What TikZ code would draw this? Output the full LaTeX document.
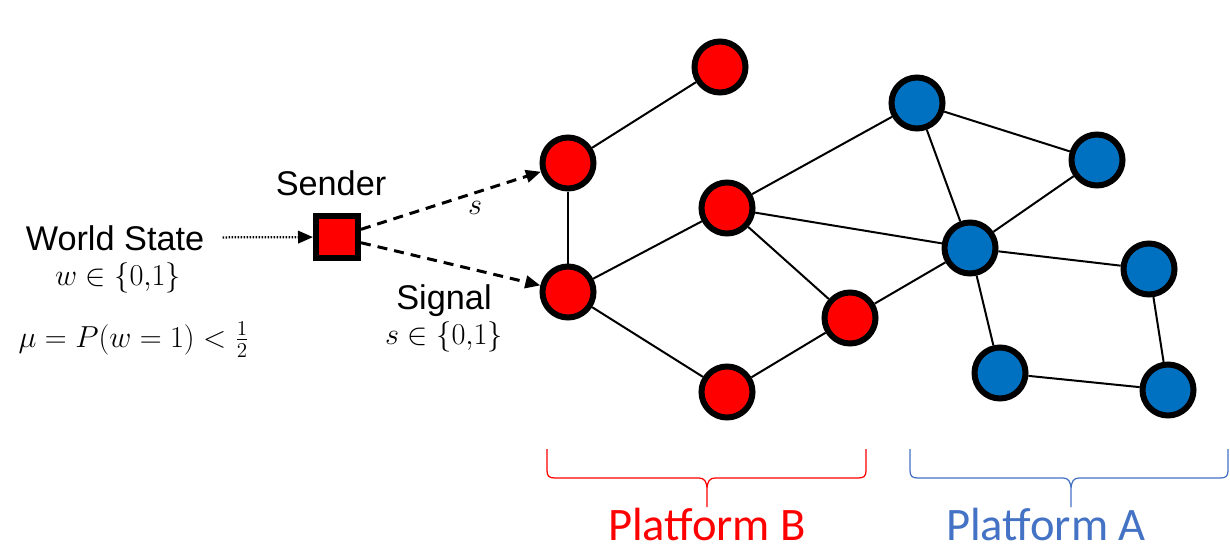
\documentclass[tikz,border=0pt]{standalone}
\usepackage{fontspec}
\setmainfont{Liberation Sans}
\newfontfamily\platfont{Carlito}
\usepackage{amsmath}
\usetikzlibrary{arrows.meta}
\definecolor{nodeblue}{HTML}{0070C0}
\definecolor{braceblue}{HTML}{4472C4}

\begin{document}
\begin{tikzpicture}[
    agent/.style={circle, draw=black, line width=0.12cm, minimum size=1.02cm, inner sep=0pt},
    redagent/.style={agent, fill=red},
    blueagent/.style={agent, fill=nodeblue},
    link/.style={line width=0.04cm},
    signal/.style={line width=0.06cm, dash pattern=on 0.2cm off 0.14cm,
      -{Triangle[length=0.3cm, width=0.25cm]}},
    txt/.style={font=\fontsize{19.5}{23}\selectfont, inner sep=0pt},
    mtxt/.style={font=\fontsize{18}{21}\selectfont, inner sep=0pt},
    platlbl/.style={font=\platfont\fontsize{26.5}{31}\selectfont, anchor=base, inner sep=0pt, text depth=0pt}
  ]
  \useasboundingbox (0,0) rectangle (24.6,10.96);

  % World state and sender
  \node[txt, anchor=base] (world) at (2.30,5.96) {World State};
  \node[mtxt, anchor=base] (wval) at (2.36,5.26) {$w \in \{0{,}1\}$};
  \node[mtxt, anchor=base] (prior) at (2.68,4.02) {$\mu = P(w=1) < \frac{1}{2}$};
  \node[draw=black, fill=red, line width=0.12cm, minimum size=0.84cm, inner sep=0pt] (sender) at (6.74,6.22) {};
  \node[txt, anchor=base] (sendlbl) at (6.62,7.06) {Sender};
  \draw[line width=0.045cm, dash pattern=on 0.03cm off 0.03cm,
    -{Triangle[length=0.3cm, width=0.25cm]}, shorten <=0.36cm] (world) -- (sender);

  % Platform B (red)
  \node[redagent] (b1) at (14.40,9.62) {};
  \node[redagent] (b2) at (11.36,7.70) {};
  \node[redagent] (b3) at (14.54,6.80) {};
  \node[redagent] (b4) at (11.36,5.12) {};
  \node[redagent] (b5) at (17.00,4.60) {};
  \node[redagent] (b6) at (14.54,3.12) {};

  % Platform A (blue)
  \node[blueagent] (a1) at (18.34,8.90) {};
  \node[blueagent] (a2) at (21.94,7.76) {};
  \node[blueagent] (a3) at (19.40,6.00) {};
  \node[blueagent] (a4) at (22.98,5.58) {};
  \node[blueagent] (a5) at (20.00,3.50) {};
  \node[blueagent] (a6) at (23.36,3.16) {};

  % Network links
  \foreach \u/\v in {b1/b2, b2/b4, b4/b3, b4/b6, b3/b5, b6/b5, b3/a1, b3/a3, b5/a3,
                     a1/a2, a1/a3, a3/a2, a3/a4, a3/a5, a5/a6, a4/a6}
    \draw[link] (\u) -- (\v);

  % Signals sent to the platform
  \draw[signal] (sender) -- (b2);
  \draw[signal] (sender) -- (b4);
  \node[mtxt, anchor=base] (slbl) at (9.50,6.68) {$s$};
  \node[txt, anchor=base] (siglbl) at (8.88,4.78) {Signal};
  \node[mtxt, anchor=base] (sval) at (8.88,4.08) {$s \in \{0{,}1\}$};

  % Braces under each platform
  \foreach \l/\m/\r/\c in {10.94/14.14/17.32/red, 18.20/21.42/24.56/braceblue}
    \draw[\c, line width=0.025cm]
      (\l,1.98) -- (\l,1.55) .. controls (\l,1.44) and (\l+0.04,1.40) .. (\l+0.16,1.40)
      -- (\m-0.16,1.40) .. controls (\m-0.06,1.40) and (\m,1.34) .. (\m,1.16) -- (\m,0.82)
      (\m,1.16) .. controls (\m,1.34) and (\m+0.06,1.40) .. (\m+0.16,1.40)
      -- (\r-0.16,1.40) .. controls (\r-0.04,1.40) and (\r,1.44) .. (\r,1.55) -- (\r,1.98);
  \node[platlbl, red] (platb) at (14.14,0.16) {Platform B};
  \node[platlbl, braceblue] (plata) at (20.92,0.16) {Platform A};
\end{tikzpicture}
\end{document}
